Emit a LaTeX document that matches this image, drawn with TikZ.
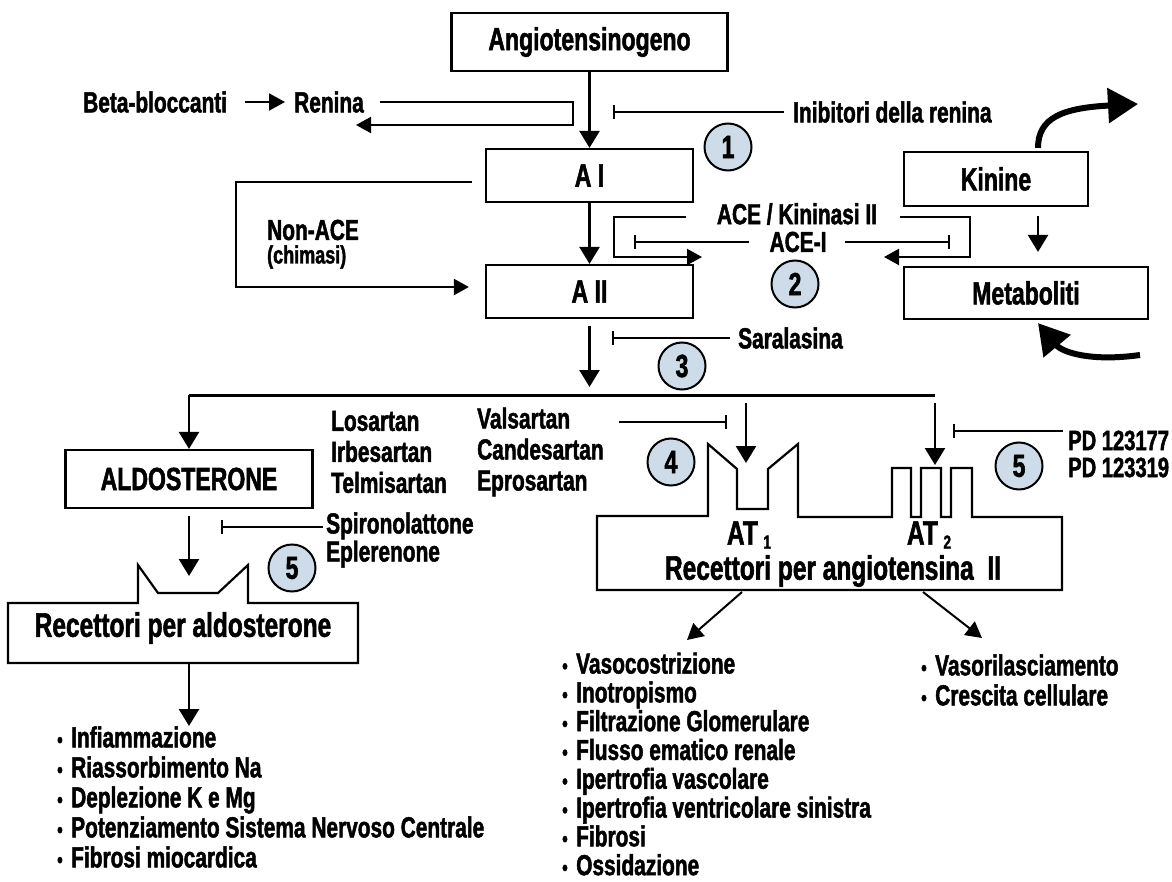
\documentclass[tikz,border=0pt]{standalone}
\usepackage{fontspec}
\setmainfont{Liberation Sans}[FakeStretch=0.72, BoldFeatures={FakeBold=1.6}]
\usetikzlibrary{arrows.meta}
\definecolor{numblue}{RGB}{205,220,232}
\newcommand\labfont{\fontsize{29}{31}\selectfont\bfseries}
\newcommand\boxfont{\fontsize{32}{34}\selectfont\bfseries}
\newcommand\recfont{\fontsize{34}{36}\selectfont\bfseries}
\newcommand\blt{\makebox[14pt][l]{\fontsize{22}{22}\selectfont\textbullet}}
\newcommand\sub[1]{\,\raisebox{-4pt}{\fontsize{19}{19}\selectfont #1}}
\def\aldreceptor{(8,603) -- (138,603) -- (138,565) -- (158,593) -- (218,593) -- (248,565) -- (248,603) -- (358,603) -- (358,663) -- (8,663) -- cycle}
\def\atreceptor{(597,516) -- (708,516) -- (708,444) -- (737,469) -- (737,509) -- (768,509) -- (768,469) -- (798,444) -- (798,517)
  -- (892,517) -- (892,468) -- (911,468) -- (911,517) -- (921,517) -- (921,468) -- (941,468) -- (941,517)
  -- (951,517) -- (951,468) -- (972,468) -- (972,517) -- (1062,517) -- (1062,590) -- (597,590) -- cycle}
\tikzset{
  box/.style={draw, line width=2.2pt, font=\boxfont, inner sep=0pt},
  lab/.style={font=\labfont, inner sep=0pt},
  num/.style={circle, draw, line width=2pt, fill=numblue, minimum size=47pt, inner sep=0pt, font=\boxfont},
  arr/.style={line width=2.5pt, -{Triangle[length=17pt,width=20pt]}},
  thinarr/.style={line width=2pt, -{Triangle[length=16pt,width=17pt]}},
  block/.style={line width=1.8pt, {Bar[width=14pt]}-},
  loop/.style={line width=2.2pt, -{Triangle[length=15pt,width=16pt]}},
  fat/.style={line width=6pt, -{Triangle[length=30pt,width=34pt]}}
}
\begin{document}
\begin{tikzpicture}[x=1pt, y=-1pt]
	\useasboundingbox (0,0) rectangle (1172,882);
	% main chain
	\node[box, minimum width=276pt, minimum height=58pt] (agen) at (589.5,42) {Angiotensinogeno};
	\node[box, minimum width=207pt, minimum height=53pt] (ai) at (589.5,175.5) {A I};
	\node[box, minimum width=207pt, minimum height=53pt] (aii) at (589.5,291.5) {A II};
	\draw[arr] (agen) -- (ai);
	\draw[arr] (ai) -- (aii);
	% renina
	\node[lab, anchor=west] (beta) at (83,102) {Beta-bloccanti};
	\node[lab, anchor=west] (ren) at (294,102) {Renina};
	\coordinate (renback) at (356,125);
	\draw[thinarr] ([xshift=18pt]beta.east) -- ([xshift=-9pt]ren.west);
	\draw[loop] ([xshift=16pt]ren.east) -- (573,102) |- (renback);
	\node[lab, anchor=west] (inib) at (793,112) {Inibitori della renina};
	\coordinate (inibbar) at (613,112);
	\draw[block] (inibbar) -- ([xshift=-9pt]inib.west);
	\node[num] (n1) at (728,147) {1};
	% non-ACE
	\node[lab, anchor=west] (nonace) at (267,230) {Non-ACE};
	\node[lab, anchor=west, font=\fontsize{25}{27}\selectfont\bfseries] (chim) at (267,257) {(chimasi)};
	\draw[loop] ([shift={(-13,6.5)}]ai.west) -- ++(-236,0) |- ([shift={(-16,-4.5)}]aii.west);
	% ACE / kinine
	\node[lab] (ace) at (797,214) {ACE / Kininasi II};
	\node[lab] (acei) at (798,242) {ACE-I};
	\coordinate (aceL) at (702,257);
	\coordinate (aceR) at (884,257);
	\draw[loop] ([shift={(-111,3)}]ace.center) -- ++(-72,0) |- (aceL);
	\draw[loop] ([shift={(103,3)}]ace.center) -- ++(70,0) |- (aceR);
	\draw[block] (634,242) -- ([xshift=-20pt]acei.west);
	\draw[block] (950,242) -- ([xshift=18pt]acei.east);
	\node[num] (n2) at (795,284) {2};
	\node[box, minimum width=184pt, minimum height=54pt] (kin) at (996,179) {Kinine};
	\node[box, minimum width=244pt, minimum height=52pt] (met) at (1026,293) {Metaboliti};
	\draw[arr] ([shift={(42,9)}]kin.south) -- ([shift={(12,-14)}]met.north);
	\draw[fat] ([shift={(42,-3)}]kin.north) .. controls (1038,118) and (1062,108) .. (1138,104);
	\draw[fat] (1140,355) .. controls (1090,362) and (1062,352) .. ([shift={(12,3)}]met.south);
	% saralasina
	\node[lab, anchor=west] (sara) at (738,338) {Saralasina};
	\draw[block] (612,338) -- ([xshift=-8pt]sara.west);
	\node[num] (n3) at (682,366) {3};
	\coordinate (split) at (589.5,395);
	\coordinate (busL) at (189,395);
	\coordinate (busR) at (935,395);
	\draw[arr] ([yshift=-7pt]aii.south) -- ([yshift=8pt]split);
	\draw[line width=3pt] (busL) -- (busR);
	% aldosterone
	\node[box, minimum width=247pt, minimum height=58pt] (ald) at (189,479) {ALDOSTERONE};
	\draw[arr] (busL) -- (ald);
	\node[lab, anchor=west, align=left] (losa) at (331,452) {Losartan\\Irbesartan\\Telmisartan};
	\node[lab, anchor=west, align=left] (vals) at (477,452) {Valsartan\\Candesartan\\Eprosartan};
	\node[lab, anchor=west, align=left, font=\fontsize{29}{26}\selectfont\bfseries] (spiro) at (326,540) {Spironolattone\\Eplerenone};
	\draw[block] (221,527) -- ([yshift=13pt,xshift=-3pt]spiro.west);
	\node[num] (n5a) at (292,568) {5};
	\draw[line width=2.2pt] \aldreceptor;
	\node[font=\recfont, inner sep=0pt] (aldrec) at (183,628) {Recettori per aldosterone};
	\coordinate (aldnotch) at (189,576);
	\draw[arr] ([yshift=-7pt]ald.south) -- (aldnotch);
	\node[lab, anchor=west, align=left, font=\fontsize{29}{30}\selectfont\bfseries] (aldlist) at (57,797)
		{\blt Infiammazione\\\blt Riassorbimento Na\\\blt Deplezione K e Mg\\\blt Potenziamento Sistema Nervoso Centrale\\\blt Fibrosi miocardica};
	\draw[arr] (189,663) -- (189,726);
	% AT receptors
	\draw[line width=2.2pt] \atreceptor;
	\coordinate (notch1) at (746,463);
	\coordinate (notch2) at (935,465);
	\draw[arr] ([yshift=-8pt]notch1 |- busR) -- (notch1);
	\draw[arr] ([yshift=-8pt]busR) -- (notch2);
	\draw[block] (727,422) -- (619,422);
	\node[num] (n4) at (671,462) {4};
	\node[lab, anchor=west, align=left, font=\fontsize{28}{27}\selectfont\bfseries] (pd) at (1068,454) {PD 123177\\PD 123319};
	\draw[block] (953,431) -- ([xshift=-5pt]pd.west |- 953,431);
	\node[num] (n5b) at (1019,466) {5};
	\node[font=\recfont, inner sep=0pt] (at1) at (749,535) {AT\sub{1}};
	\node[font=\recfont, inner sep=0pt] (at2) at (929,535) {AT\sub{2}};
	\node[font=\recfont, inner sep=0pt] (atrec) at (833,571) {Recettori per angiotensina~ II};
	\node[lab, anchor=west, align=left, font=\fontsize{29}{28.8}\selectfont\bfseries] (atlist) at (562,764)
		{\blt Vasocostrizione\\\blt Inotropismo\\\blt Filtrazione Glomerulare\\\blt Flusso ematico renale\\\blt Ipertrofia vascolare\\\blt Ipertrofia ventricolare sinistra\\\blt Fibrosi\\\blt Ossidazione};
	\node[lab, anchor=west, align=left, font=\fontsize{29}{30}\selectfont\bfseries] (at2list) at (921,680)
		{\blt Vasorilasciamento\\\blt Crescita cellulare};
	\draw[thinarr] (742,592) -- (687,640);
	\draw[thinarr] (923,592) -- (982,638);
\end{tikzpicture}
\end{document}
